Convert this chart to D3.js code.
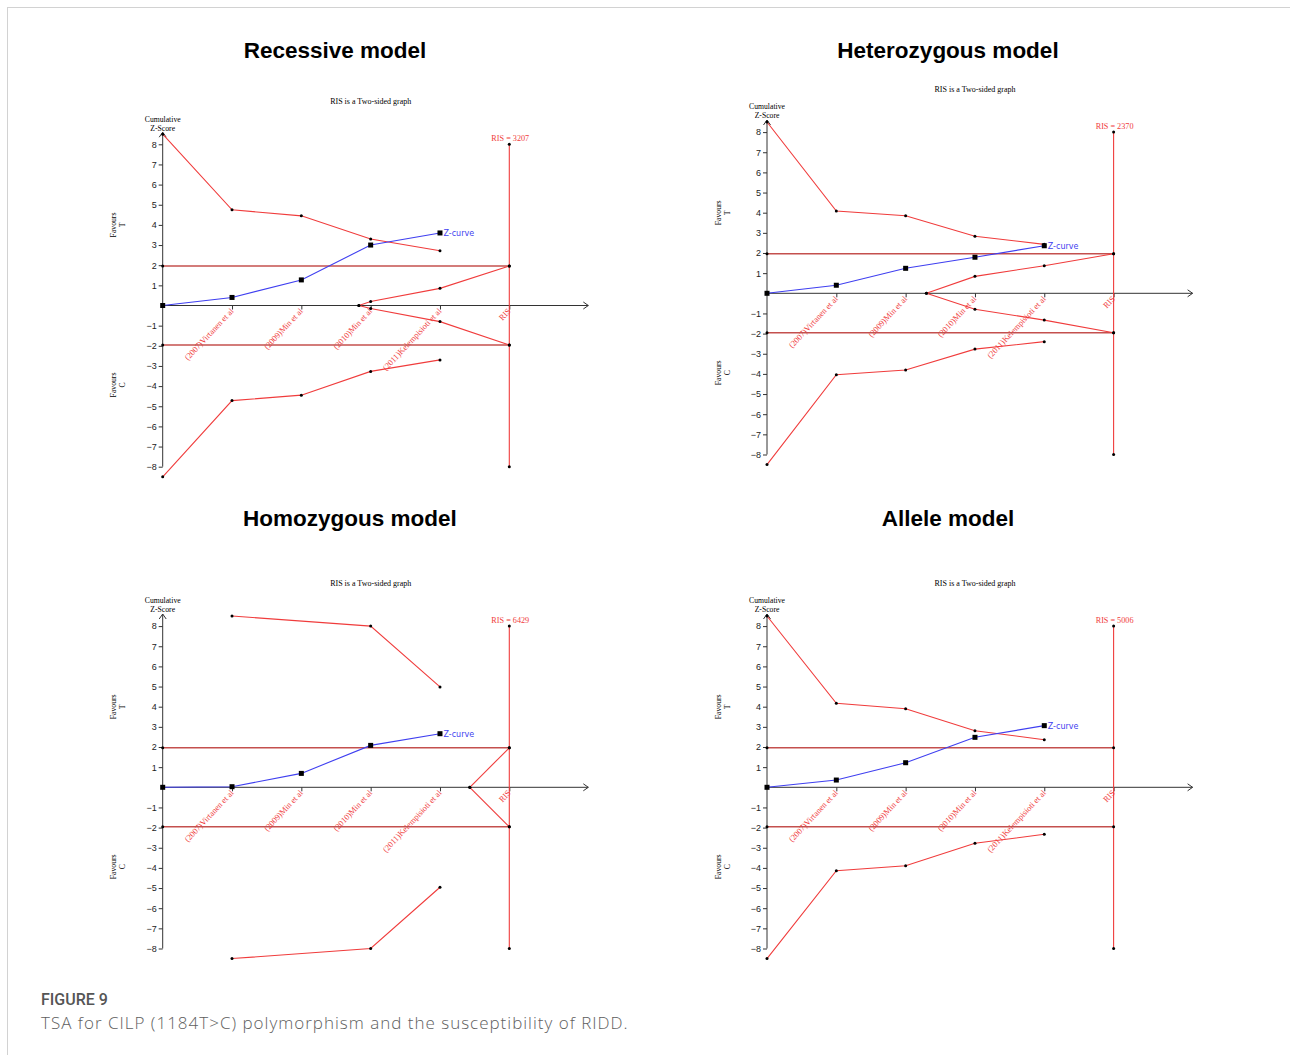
<!DOCTYPE html>
<html>
<head>
<meta charset="utf-8">
<script src="https://cdn.jsdelivr.net/npm/d3@7"></script>
<style>
  body { margin: 0; background: #fff; }
  svg text { font-family: "Liberation Serif", serif; }
</style>
</head>
<body>
<svg id="chart" width="1290" height="1055"></svg>
<script>
// studies on the x axis, in order of accrual; position 5 is the RIS
const studies = ["(2007)Virtanen et al", "(2009)Min et al", "(2010)Min et al", "(2011)Kelempisioti et al", "RIS"];
const modelNames = ["Recessive model", "Heterozygous model", "Homozygous model", "Allele model"];
const risSizes = [3207, 2370, 6429, 5006];
const yTicks = [-8, -7, -6, -5, -4, -3, -2, -1, 1, 2, 3, 4, 5, 6, 7, 8];
const conventional = [1.96, -1.96];
const risSpan = [-8, 8];

// cumulative z-curve and monitoring boundaries (null = no point drawn)
const recessiveZ = [0, 0.40, 1.27, 3.00, 3.60];
const recessiveUpper = [8.5, 4.75, 4.45, 3.30, 2.72];
const recessiveLower = [-8.5, -4.72, -4.45, -3.27, -2.70];
const recessiveFutUp = [[2.83, 0], [3, 0.20], [4, 0.85], [5, 1.96]];
const recessiveFutLow = [[2.83, 0], [3, -0.15], [4, -0.80], [5, -1.96]];

const heteroZ = [0, 0.40, 1.24, 1.79, 2.36];
const heteroUpper = [8.5, 4.08, 3.85, 2.83, 2.43];
const heteroLower = [-8.5, -4.04, -3.81, -2.77, -2.40];
const heteroFutUp = [[2.30, 0], [3, 0.84], [4, 1.37], [5, 1.96]];
const heteroFutLow = [[2.30, 0], [3, -0.79], [4, -1.33], [5, -1.96]];

const homoZ = [0, 0.03, 0.69, 2.08, 2.66];
const homoUpper = [null, 8.5, null, 8.0, 4.98];
const homoLower = [null, -8.5, null, -8.0, -4.96];
const homoFutUp = [[4.43, 0], [5, 1.96]];
const homoFutLow = [[4.43, 0], [5, -1.96]];

const alleleZ = [0, 0.36, 1.22, 2.48, 3.06];
const alleleUpper = [8.5, 4.17, 3.90, 2.81, 2.36];
const alleleLower = [-8.5, -4.14, -3.89, -2.78, -2.33];
const alleleFutUp = [];
const alleleFutLow = [];

const panels = [
  { z: recessiveZ, upper: recessiveUpper, lower: recessiveLower, futUp: recessiveFutUp, futLow: recessiveFutLow },
  { z: heteroZ, upper: heteroUpper, lower: heteroLower, futUp: heteroFutUp, futLow: heteroFutLow },
  { z: homoZ, upper: homoUpper, lower: homoLower, futUp: homoFutUp, futLow: homoFutLow },
  { z: alleleZ, upper: alleleUpper, lower: alleleLower, futUp: alleleFutUp, futLow: alleleFutLow },
];

// where each panel sits: y-axis x, zero line y, title centre
const layout = [
  { ax: 162.7, zy: 305.5, tx: 335, ty: 58 },
  { ax: 767, zy: 293.3, tx: 948, ty: 58 },
  { ax: 162.7, zy: 787.3, tx: 350, ty: 526 },
  { ax: 767, zy: 787.3, tx: 948, ty: 526 },
];

const RED = "#f03c3c";
const BLUE = "#3f3ff0";
const DARKRED = "#c4504e";

const svg = d3.select("#chart");

svg.append("rect")
  .attr("x", 7.5).attr("y", 7.5)
  .attr("width", 1300).attr("height", 1100)
  .attr("fill", "none").attr("stroke", "#d2d2d2");

const x = d3.scaleLinear().domain([0, 5]).range([0, 346.6]);
const y = d3.scaleLinear().domain([-8, 8]).range([161.2, -161.2]);
const line = d3.line().x((d) => x(d[0])).y((d) => y(d[1]));
const toPairs = (values) => values.map((v, i) => [i, v]).filter((d) => d[1] !== null);

panels.forEach((panel, i) => {
  const pos = layout[i];

  svg.append("text")
    .attr("x", pos.tx).attr("y", pos.ty)
    .attr("text-anchor", "middle")
    .style("font-family", "'Liberation Sans', Arial, sans-serif")
    .style("font-weight", "bold")
    .style("font-size", "22.5px")
    .text(modelNames[i]);

  const g = svg.append("g").attr("transform", `translate(${pos.ax},${pos.zy})`);

  g.append("text")
    .attr("x", 208).attr("y", -201.5)
    .attr("text-anchor", "middle")
    .style("font-size", "8px")
    .text("RIS is a Two-sided graph");

  const cum = g.append("text").attr("text-anchor", "middle").style("font-size", "7.7px");
  cum.append("tspan").attr("x", 0).attr("y", -184).text("Cumulative");
  cum.append("tspan").attr("x", 0).attr("y", -175).text("Z-Score");

  [["Favours", "T", -80.5], ["Favours", "C", 79.5]].forEach(([a, b, cy]) => {
    const fav = g.append("text")
      .attr("transform", `translate(-49,${cy}) rotate(-90)`)
      .attr("text-anchor", "middle")
      .style("font-size", "7.7px");
    fav.append("tspan").attr("x", 0).attr("y", 2.5).text(a);
    fav.append("tspan").attr("x", 0).attr("y", 11.5).text(b);
  });

  // y axis
  const yAxis = g.append("g")
    .call(d3.axisLeft(y).tickValues(yTicks).tickSize(4).tickSizeOuter(0).tickPadding(2));
  yAxis.select(".domain").remove();
  yAxis.selectAll("line").attr("stroke", "#333");
  yAxis.selectAll("text")
    .style("font-family", "'Liberation Sans', Arial, sans-serif")
    .style("font-size", "9px")
    .attr("fill", "#222");

  g.append("line")
    .attr("x1", 0).attr("x2", 0)
    .attr("y1", y(-8)).attr("y2", y(8.6))
    .attr("stroke", "#333");
  g.append("path")
    .attr("d", `M-3.5,${y(8.6) + 5}L0,${y(8.6)}L3.5,${y(8.6) + 5}`)
    .attr("fill", "none").attr("stroke", "#333");

  // x axis
  const xAxis = g.append("g")
    .call(d3.axisBottom(x).tickValues([1, 2, 3, 4, 5]).tickSize(4).tickSizeOuter(0)
      .tickFormat((d) => studies[d - 1]));
  xAxis.select(".domain").remove();
  xAxis.selectAll("line").attr("stroke", "#333");
  xAxis.selectAll("text")
    .attr("fill", RED)
    .attr("text-anchor", "end")
    .attr("x", 0).attr("y", 0).attr("dy", null)
    .attr("transform", "translate(1.5,6) rotate(-47)")
    .style("font-family", "'Liberation Serif', serif")
    .style("font-size", "8.4px");

  const xEnd = x(6.14);
  g.append("line")
    .attr("x1", 0).attr("x2", xEnd)
    .attr("y1", y(0)).attr("y2", y(0))
    .attr("stroke", "#333");
  g.append("path")
    .attr("d", `M${xEnd - 5},${y(0) - 3.5}L${xEnd},${y(0)}L${xEnd - 5},${y(0) + 3.5}`)
    .attr("fill", "none").attr("stroke", "#333");

  // conventional boundaries
  conventional.forEach((v) => {
    g.append("line")
      .attr("x1", x(0)).attr("x2", x(5))
      .attr("y1", y(v)).attr("y2", y(v))
      .attr("stroke", DARKRED).attr("stroke-width", 1.4);
  });

  // RIS line
  g.append("line")
    .attr("x1", x(5)).attr("x2", x(5))
    .attr("y1", y(risSpan[0])).attr("y2", y(risSpan[1]))
    .attr("stroke", RED).attr("stroke-width", 1.1);

  g.append("text")
    .attr("x", x(5) + 1).attr("y", -164.5)
    .attr("text-anchor", "middle")
    .attr("fill", RED)
    .style("font-size", "8.2px")
    .text(`RIS = ${risSizes[i]}`);

  // monitoring and futility boundaries
  const boundarySets = [toPairs(panel.upper), toPairs(panel.lower), panel.futUp, panel.futLow]
    .filter((s) => s.length);

  boundarySets.forEach((pts) => {
    g.append("path")
      .attr("d", line(pts))
      .attr("fill", "none")
      .attr("stroke", RED)
      .attr("stroke-width", 1.1);
  });

  const dots = [];
  boundarySets.forEach((pts) => pts.forEach((p) => dots.push(p)));
  conventional.forEach((v) => { dots.push([0, v]); dots.push([5, v]); });
  risSpan.forEach((v) => dots.push([5, v]));

  g.append("g").selectAll("circle")
    .data(dots)
    .join("circle")
    .attr("cx", (d) => x(d[0]))
    .attr("cy", (d) => y(d[1]))
    .attr("r", 1.5)
    .attr("fill", "#000");

  // z-curve
  const zPts = toPairs(panel.z);
  g.append("path")
    .attr("d", line(zPts))
    .attr("fill", "none")
    .attr("stroke", BLUE)
    .attr("stroke-width", 1.1);

  g.append("g").selectAll("rect")
    .data(zPts)
    .join("rect")
    .attr("x", (d) => x(d[0]) - 2.5)
    .attr("y", (d) => y(d[1]) - 2.5)
    .attr("width", 5).attr("height", 5)
    .attr("fill", "#000");

  const last = zPts[zPts.length - 1];
  g.append("text")
    .attr("x", x(last[0]) + 3.5)
    .attr("y", y(last[1]) + 3)
    .attr("fill", BLUE)
    .style("font-family", "'DejaVu Sans', sans-serif")
    .style("font-size", "8px")
    .text("Z-curve");
});

// caption
svg.append("text")
  .attr("x", 41).attr("y", 1005)
  .attr("fill", "#555")
  .style("font-family", "Roboto, sans-serif")
  .style("font-weight", 500)
  .style("font-size", "16px")
  .text("FIGURE 9");

svg.append("text")
  .attr("x", 41).attr("y", 1029)
  .attr("fill", "#5e5e5e")
  .style("font-family", "'Open Sans', sans-serif")
  .style("font-weight", 300)
  .style("font-size", "17px")
  .style("letter-spacing", "1px")
  .text("TSA for CILP (1184T>C) polymorphism and the susceptibility of RIDD.");
</script>
</body>
</html>
